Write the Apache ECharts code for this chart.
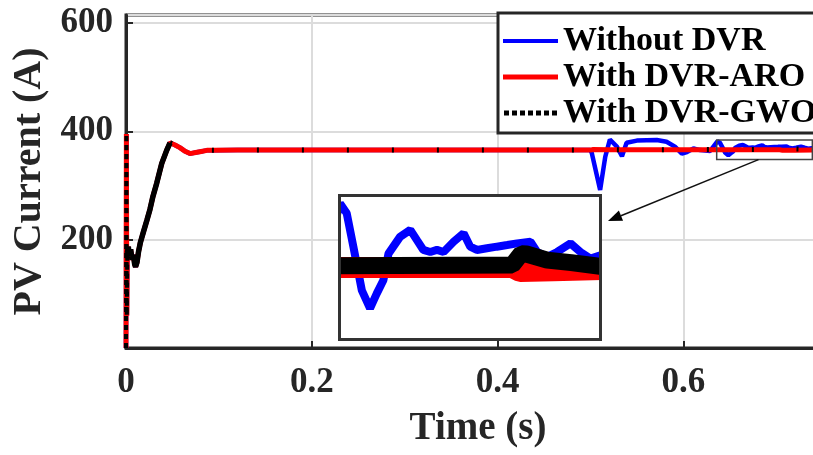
<!DOCTYPE html>
<html><head><meta charset="utf-8">
<script src="https://cdn.jsdelivr.net/npm/echarts@6/dist/echarts.min.js"></script>
<style>
html,body{margin:0;padding:0;background:#fff}
#wrap{position:relative;width:813px;height:455px;overflow:hidden}
#c{position:absolute;left:0;top:0;width:813px;height:455px}
#inset{position:absolute;left:338px;top:194px;width:264px;height:147px;background:#fff}
</style>
</head><body><div id="wrap"><div id="c"></div><div id="inset"></div></div>
<script>
// ---------- data ----------
const xTickLabels = [0, 0.2, 0.4, 0.6];
const yTickLabels = [200, 400, 600];
const X_MAX = 0.758;
const Y_MAX = 615;

// start-up transient common to all three traces (t in s, current in A)
const startT = [0, 0.0004, 0.0009, 0.0014, 0.0025, 0.0035, 0.005, 0.0065, 0.008, 0.0093, 0.0103, 0.0118, 0.0135, 0.0155, 0.0187, 0.0225, 0.0258, 0.029, 0.033, 0.0385, 0.0438, 0.0474, 0.0528, 0.058, 0.063, 0.069, 0.075, 0.081, 0.087, 0.095, 0.12, 0.2, 0.3, 0.4, 0.5];
const startI = [0, 395, 60, 175, 187, 170, 182, 163, 172, 155, 150, 158, 178, 195, 214, 236, 256, 280, 304, 341, 365, 379, 375, 370, 364, 359, 361, 363, 365, 365, 365.5, 365.5, 365.5, 365.5, 365.5];

// Without DVR (after the disturbance)
const noDvrT = [0.5015, 0.5105, 0.516, 0.521, 0.5285, 0.534, 0.539, 0.55, 0.5715, 0.582, 0.591, 0.5985, 0.604, 0.611, 0.618, 0.629,
  0.6368, 0.6394, 0.642, 0.6453, 0.6485, 0.6511, 0.6537, 0.6557, 0.6602, 0.6642, 0.6668, 0.6693, 0.672, 0.6746, 0.6772, 0.6811, 0.685, 0.6876, 0.6902, 0.6941, 0.698, 0.702, 0.7059, 0.7111, 0.7137, 0.7176, 0.7215, 0.7267, 0.7306, 0.7345, 0.7384, 0.758];
const noDvrI = [360, 292, 353, 385, 372, 354, 379, 383, 384, 381, 372, 359, 362, 368.5, 365.5, 364,
  381.7, 379.3, 371.1, 360.4, 356, 359.6, 362.9, 369.4, 373.5, 375.2, 372.7, 370.3, 369.8, 370.3, 369.8, 372.3, 374.4, 371.1, 370.3, 370.7, 371.1, 371.5, 371.9, 372.3, 369.8, 368.6, 369.8, 371.9, 369.8, 368.2, 369, 369];

// With DVR-ARO (after the disturbance)
const aroT = [0.503, 0.52, 0.6, 0.704, 0.707, 0.72, 0.739, 0.758];
const aroI = [366.5, 366, 366, 366, 365, 365.2, 365.5, 365.5];

// With DVR-GWO (after the disturbance)
const gwoT = [0.502, 0.505, 0.52, 0.6, 0.704, 0.7075, 0.7095, 0.7176, 0.727, 0.739, 0.758];
const gwoI = [367, 366.5, 366.3, 366.3, 366.6, 369.4, 369.3, 367.8, 367.2, 366.2, 366];

// zoomed window shown in the inset
const zoomT = [0.636, 0.739];
const zoomI = [348, 384];
const arrowFromT = 0.681;

// ---------- build ----------
const pairs = (ts, vs) => ts.map((t, i) => [t, vs[i]]);
const noDvr = pairs(startT.concat(noDvrT), startI.concat(noDvrI));
const aro = pairs(startT.concat(aroT), startI.concat(aroI));
const gwo = pairs(startT.concat(gwoT), startI.concat(gwoI));
const gwoA = gwo.filter(p => p[0] <= 0.0014);
const gwoB = gwo.filter(p => p[0] >= 0.0014 && p[0] <= 0.0474);
const gwoC = gwo.filter(p => p[0] >= 0.0474);

const FONT = 'Liberation Serif';
const AX = '#262626';
const INSET = {left: 338, top: 194, width: 264, height: 147};

const line = (name, data, color, width, dash) => ({
  name, type: 'line', data, showSymbol: false, symbol: 'none', animation: false,
  lineStyle: {color, width, type: dash || 'solid', cap: 'butt'}, itemStyle: {color}, z: 2
});

const dots = 'path://M0,0H5V5H0Z M8,0H13V5H8Z M16,0H21V5H16Z M24,0H29V5H24Z M32,0H37V5H32Z M40,0H45V5H40Z M48,0H53V5H48Z';

const chart = echarts.init(document.getElementById('c'), null, {renderer: 'canvas'});
chart.setOption({
  animation: false,
  backgroundColor: '#fff',
  grid: {left: 126, top: 15, right: -17, bottom: 107, show: true, borderColor: AX, borderWidth: 3, backgroundColor: 'transparent', outerBoundsMode: 'none', containLabel: false},
  xAxis: {
    type: 'value', min: 0, max: X_MAX, interval: 0.2,
    axisLine: {show: true, onZero: false, lineStyle: {color: AX, width: 3}},
    axisTick: {show: true, inside: true, length: 7, lineStyle: {color: AX, width: 2}},
    axisLabel: {show: true, margin: 17, fontFamily: FONT, fontWeight: 'bold', fontSize: 35, color: AX, showMaxLabel: false,
      formatter: v => xTickLabels.some(t => Math.abs(t - v) < 1e-9) ? String(v) : ''},
    splitLine: {show: true, lineStyle: {color: '#dcdcdc', width: 2}},
    name: 'Time (s)', nameLocation: 'middle', nameGap: 61,
    nameTextStyle: {fontFamily: FONT, fontWeight: 'bold', fontSize: 39, color: AX}
  },
  yAxis: {
    type: 'value', min: 0, max: Y_MAX, interval: 200,
    axisLine: {show: true, onZero: false, lineStyle: {color: AX, width: 3}},
    axisTick: {show: true, inside: true, length: 7, lineStyle: {color: AX, width: 2}},
    axisLabel: {show: true, margin: 13, fontFamily: FONT, fontWeight: 'bold', fontSize: 35, color: AX, showMaxLabel: false, showMinLabel: false,
      formatter: v => yTickLabels.indexOf(v) >= 0 ? String(v) : ''},
    splitLine: {show: true, lineStyle: {color: '#dcdcdc', width: 2}},
    name: 'PV Current (A)', nameLocation: 'middle', nameGap: 62,
    nameTextStyle: {fontFamily: FONT, fontWeight: 'bold', fontSize: 40, color: AX}
  },
  legend: {
    orient: 'vertical', left: 498, top: 13,
    padding: [11, 10, 3, 5], itemGap: 2, itemWidth: 55, itemHeight: 5,
    backgroundColor: '#fff', borderColor: AX, borderWidth: 3, borderRadius: 0,
    textStyle: {fontFamily: FONT, fontWeight: 'bold', fontSize: 34, lineHeight: 34, color: '#000'},
    data: [
      {name: 'Without DVR', icon: 'path://M0,0H55V4H0Z', itemStyle: {color: '#0000ff'}},
      {name: 'With DVR-ARO', icon: 'path://M0,0H55V5H0Z', itemStyle: {color: '#ff0000'}},
      {name: 'With DVR-GWO', icon: dots, itemStyle: {color: '#000000'}}
    ], z: 8
  },
  series: [
    line('Without DVR', noDvr, '#0000ff', 4.5),
    line('With DVR-ARO', aro, '#ff0000', 5),
    line('With DVR-GWO', gwoA, '#000000', 4, [5, 4]),
    line('With DVR-GWO', gwoB, '#000000', 5.5),
    line('With DVR-GWO', gwoC, '#000000', 5, [2, 43])
  ]
});

// zoom window and arrow in the main axes
const P = (x, y) => chart.convertToPixel({xAxisIndex: 0, yAxisIndex: 0}, [x, y]);
const s0 = P(zoomT[0], zoomI[1]), s1 = P(zoomT[1], zoomI[0]);
const from = P(arrowFromT, zoomI[0]);
const tip = [INSET.left + INSET.width + 6, INSET.top + 27];
const dx = tip[0] - from[0], dy = tip[1] - from[1], L = Math.hypot(dx, dy);
const ux = dx / L, uy = dy / L, hl = 14, hw = 5.5;
const base = [tip[0] - ux * hl, tip[1] - uy * hl];
chart.setOption({
  graphic: [
    {type: 'rect', z: 6, shape: {x: s0[0], y: s0[1], width: s1[0] - s0[0], height: s1[1] - s0[1]}, style: {fill: null, stroke: '#444', lineWidth: 1.5}},
    {type: 'line', z: 6, shape: {x1: from[0], y1: from[1], x2: base[0], y2: base[1]}, style: {stroke: '#111', lineWidth: 1.5}},
    {type: 'polygon', z: 6, shape: {points: [tip, [base[0] - uy * hw, base[1] + ux * hw], [base[0] + uy * hw, base[1] - ux * hw]]}, style: {fill: '#000'}}
  ]
});

// ---------- inset (magnified view of the zoom window) ----------
const inset = echarts.init(document.getElementById('inset'), null, {renderer: 'canvas'});
inset.setOption({
  animation: false,
  backgroundColor: '#fff',
  grid: {left: 0, top: 0, right: 0, bottom: 0, show: false, outerBoundsMode: 'none', containLabel: false},
  xAxis: {type: 'value', min: zoomT[0], max: zoomT[1], show: false},
  yAxis: {type: 'value', min: zoomI[0], max: zoomI[1], show: false},
  series: [
    line('Without DVR', noDvr, '#0000ff', 8),
    line('With DVR-ARO', aro, '#ff0000', 21),
    line('With DVR-GWO', gwo, '#000000', 17)
  ],
  graphic: [
    {type: 'rect', z: 10, shape: {x: 1.5, y: 1.5, width: INSET.width - 3, height: INSET.height - 3}, style: {fill: null, stroke: '#333', lineWidth: 3}}
  ]
});
</script></body></html>
